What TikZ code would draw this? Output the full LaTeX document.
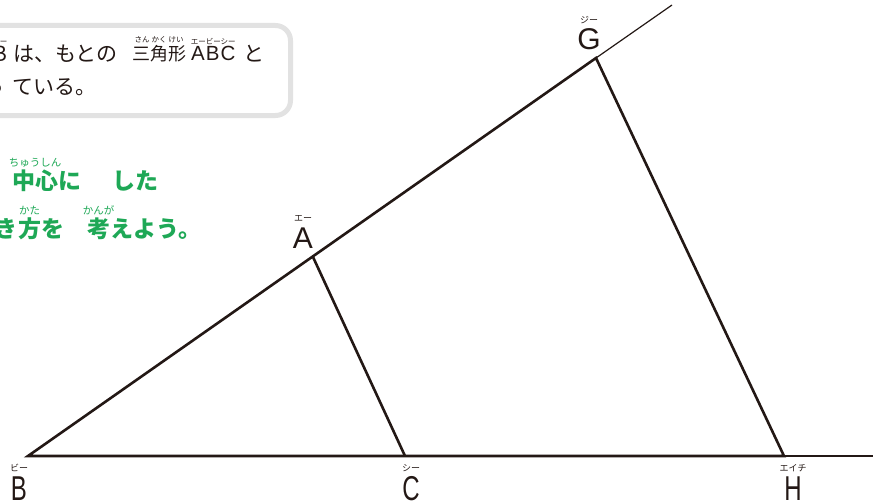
\documentclass[tikz,border=0pt]{standalone}
\usepackage{fontspec}
\setmainfont{Noto Sans CJK JP}
\newfontfamily\latinfont{Liberation Sans}
\usepackage{tikz}
\usetikzlibrary{positioning}
\definecolor{nbink}{RGB}{35,24,21}
\definecolor{nbgreen}{RGB}{30,168,86}
\definecolor{nbgrey}{RGB}{226,226,226}
\newcommand{\tallchar}[1]{\scalebox{0.8}[1.15]{#1}}

\begin{document}
\begin{tikzpicture}[
  x=1pt, y=-1pt,
  side/.style={line width=2.6pt, draw=nbink, line join=miter},
  ray/.style={line width=1.2pt, draw=nbink},
  frame/.style={draw=nbgrey, line width=5pt, fill=white, rounded corners=15pt},
  note/.style={font=\fontsize{21}{21}\selectfont, text=nbink, inner sep=0pt},
  hint/.style={font=\fontsize{23}{23}\selectfont\bfseries, text=nbgreen, inner sep=0pt},
  vlabel/.style={font=\latinfont\fontsize{30}{30}\selectfont, text=nbink, inner sep=0pt, anchor=base},
  kana/.style={font=\fontsize{7.5}{7.5}\selectfont, text=nbink, inner sep=0pt},
  gkana/.style={font=\fontsize{10.5}{10.5}\selectfont, text=nbgreen, inner sep=0pt},
  vkana/.style={font=\fontsize{9}{9}\selectfont, text=nbink, inner sep=0pt}
]
\useasboundingbox (0,0) rectangle (873,503);
\clip (0,0) rectangle (873,503);

% note box
\draw[frame] (-40,25.5) rectangle (290.5,115.5);
\node[note, anchor=base east] (bB) at (7,62) {B};
\node[note, anchor=base west] (bwa) at (13,62) {は、もとの};
\node[note, anchor=base west, font=\fontsize{18}{18}\selectfont] (bsan) at (132,61) {三角形};
\node[note, anchor=base west, font=\latinfont\fontsize{20.5}{20.5}\selectfont] (babc) at (191,61) {A\kern1pt B\kern1pt C};
\node[note, anchor=base west] (bto) at (243,62) {と};
\node[kana, above=2pt of bB] (kB) {ビー};
\node[kana, above=2pt of bsan] (ksan) {さん\hspace{2pt}かく\hspace{2pt}けい};
\node[kana, above=2pt of babc] (kabc) {エービーシー};
\node[note, anchor=base east] (btu) at (5,95) {っ};
\node[note, anchor=base west] (bte) at (12,95) {ている。};

% green hint
\node[hint, anchor=base west] (gchu) at (12,189) {中心};
\node[hint, anchor=base west] (gni) at (gchu.base east) {に};
\node[hint, anchor=base west] (gshi) at (112,189) {した};
\node[gkana, above=2pt of gchu] (kchu) {ちゅうしん};
\node[hint, anchor=base east] (gki) at (18,237) {き};
\node[hint, anchor=base west] (gkata) at (18,237) {方};
\node[hint, anchor=base west] (gwo) at (gkata.base east) {を};
\node[hint, anchor=base west] (gkan) at (87,237) {考};
\node[hint, anchor=base west] (geyou) at (gkan.base east) {えよう。};
\node[gkana, above=2pt of gkata] (kkata) {かた};
\node[gkana, above=2pt of gkan] (kkan) {かんが};

% triangles
\coordinate (B) at (28,456);
\coordinate (C) at (405,456);
\coordinate (H) at (784,456);
\coordinate (A) at (313,257);
\coordinate (G) at (596,58);
\coordinate (Hx) at (873,456);
\coordinate (Gx) at (672,5);
\draw[ray] (G) -- (Gx);
\draw[ray] (H) -- (Hx);
\draw[side] (G) -- (B) -- (H) -- cycle;
\draw[side] (A) -- (C);

% vertex labels
\node[vlabel] (lB) at (19,500) {\tallchar{B}};
\node[vlabel] (lC) at (411,500) {\tallchar{C}};
\node[vlabel] (lH) at (793,500) {\tallchar{H}};
\node[vlabel] (lA) at (303,248) {A};
\node[vlabel] (lG) at (589,50) {G};
\node[vkana, above=4pt of lB] (kvB) {ビー};
\node[vkana, above=4pt of lC] (kvC) {シー};
\node[vkana, above=4pt of lH] (kvH) {エイチ};
\node[vkana, above=5pt of lA] (kvA) {エー};
\node[vkana, above=5pt of lG] (kvG) {ジー};
\end{tikzpicture}
\end{document}
